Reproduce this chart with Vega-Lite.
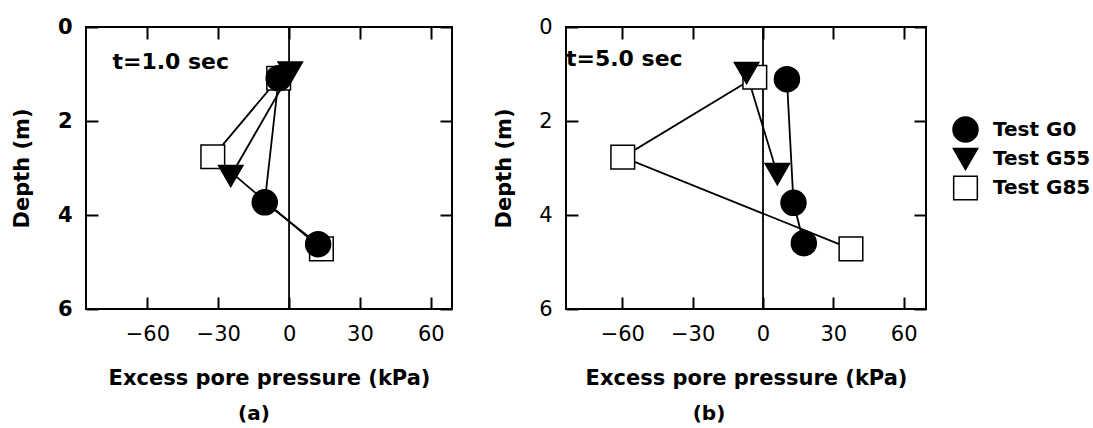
{
  "$schema": "https://vega.github.io/schema/vega-lite/v6.json",
  "background": "white",
  "padding": {"left": 10, "top": 15, "right": 0, "bottom": 0},
  "config": {
    "font": "DejaVu Sans",
    "view": {"stroke": "black", "strokeWidth": 2},
    "axis": {
      "domain": false,
      "grid": false,
      "tickColor": "black",
      "tickWidth": 2,
      "tickSize": -12,
      "labelColor": "black",
      "labelFont": "DejaVu Sans",
      "labelFontSize": 21,
      "labelFlush": false,
      "labelPadding": 26,
      "titleColor": "black",
      "titleFont": "DejaVu Sans",
      "titleFontSize": 21,
      "titleFontWeight": "bold"
    },
    "legend": {
      "labelFont": "DejaVu Sans",
      "labelFontSize": 20,
      "labelFontWeight": "bold",
      "labelColor": "black",
      "labelOffset": 14,
      "rowPadding": 0,
      "symbolStrokeColor": "black",
      "symbolStrokeWidth": 1.5,
      "symbolOpacity": 1
    },
    "title": {
      "font": "DejaVu Sans",
      "fontSize": 20,
      "fontWeight": "bold",
      "color": "black"
    }
  },
  "datasets": {
    "t1": [
      {"test": "Test G85", "kPa": -4.4, "depth": 1.09},
      {"test": "Test G85", "kPa": -32.3, "depth": 2.76},
      {"test": "Test G85", "kPa": 13.7, "depth": 4.72},
      {"test": "Test G55", "kPa": 0.5, "depth": 0.97},
      {"test": "Test G55", "kPa": -24.7, "depth": 3.17},
      {"test": "Test G0", "kPa": -4.4, "depth": 1.09},
      {"test": "Test G0", "kPa": -10.3, "depth": 3.73},
      {"test": "Test G0", "kPa": 12.3, "depth": 4.62}
    ],
    "t5": [
      {"test": "Test G85", "kPa": -3.5, "depth": 1.07},
      {"test": "Test G85", "kPa": -59.8, "depth": 2.77},
      {"test": "Test G85", "kPa": 37.5, "depth": 4.72},
      {"test": "Test G55", "kPa": -7.0, "depth": 0.98},
      {"test": "Test G55", "kPa": 6.1, "depth": 3.13},
      {"test": "Test G0", "kPa": 10.2, "depth": 1.11},
      {"test": "Test G0", "kPa": 13.0, "depth": 3.74},
      {"test": "Test G0", "kPa": 17.4, "depth": 4.6}
    ]
  },
  "spacing": 38,
  "hconcat": [
    {
      "width": 366,
      "height": 282,
      "title": {"text": "(a)", "orient": "bottom", "dx": -15, "offset": 16},
      "resolve": {"axis": {"x": "independent", "y": "independent"}},
      "layer": [
        {
          "data": {"values": [{}]},
          "mark": {"type": "rule", "color": "black", "strokeWidth": 1.8},
          "encoding": {
            "x": {"datum": 0, "type": "quantitative", "scale": {"domain": [-86, 69], "nice": false, "zero": false},
                  "axis": {"orient": "top", "values": [-60, -30, 0, 30, 60], "labels": false, "title": null}}
          }
        },
        {
          "data": {"name": "t1"},
          "mark": {"type": "line", "color": "black", "strokeWidth": 1.8},
          "encoding": {
            "x": {"field": "kPa", "type": "quantitative", "scale": {"domain": [-86, 69], "nice": false, "zero": false},
                  "axis": {"values": [-60, -30, 0, 30, 60], "title": "Excess pore pressure (kPa)", "titlePadding": 23}},
            "y": {"field": "depth", "type": "quantitative", "scale": {"domain": [0, 6], "reverse": true, "nice": false},
                  "axis": {"values": [0, 2, 4, 6], "title": "Depth (m)", "labelFontWeight": "bold", "titlePadding": 25}},
            "detail": {"field": "test"},
            "order": {"field": "depth"}
          }
        },
        {
          "data": {"name": "t1"},
          "encoding": {
            "x": {"field": "kPa", "type": "quantitative", "scale": {"domain": [-86, 69], "nice": false, "zero": false}, "axis": null},
            "y": {"field": "depth", "type": "quantitative", "scale": {"domain": [0, 6], "reverse": true, "nice": false}, "axis": null},
            "shape": {"field": "test", "type": "nominal",
                      "scale": {"domain": ["Test G0", "Test G55", "Test G85"], "range": ["circle", "triangle-down", "square"]},
                      "legend": {"title": null, "orient": "none", "legendX": 866, "legendY": 89,
                                 "encode": {"symbols": {"update": {"stroke": {"value": "black"}, "strokeWidth": {"value": 1.5}, "strokeOpacity": {"value": 1}}}}}},
            "fill": {"field": "test", "type": "nominal",
                     "scale": {"domain": ["Test G0", "Test G55", "Test G85"], "range": ["black", "black", "white"]},
                     "legend": {"title": null, "orient": "none", "legendX": 866, "legendY": 89,
                                "encode": {"symbols": {"update": {"stroke": {"value": "black"}, "strokeWidth": {"value": 1.5}, "strokeOpacity": {"value": 1}}}}}},
            "size": {"field": "test", "type": "nominal",
                     "scale": {"domain": ["Test G0", "Test G55", "Test G85"], "range": [625, 560, 300]},
                     "legend": {"title": null, "orient": "none", "legendX": 866, "legendY": 89,
                                "encode": {"symbols": {"update": {"stroke": {"value": "black"}, "strokeWidth": {"value": 1.5}, "strokeOpacity": {"value": 1}}}}}}
          },
          "layer": [
            {
              "transform": [{"filter": "datum.test === 'Test G85'"}],
              "mark": {"type": "point", "filled": true, "stroke": "black", "strokeWidth": 1.5, "opacity": 1, "fillOpacity": 1}
            },
            {
              "transform": [{"filter": "datum.test === 'Test G55'"}],
              "mark": {"type": "point", "filled": true, "stroke": "black", "strokeWidth": 1.5, "opacity": 1, "fillOpacity": 1}
            },
            {
              "transform": [{"filter": "datum.test === 'Test G0'"}],
              "mark": {"type": "point", "filled": true, "stroke": "black", "strokeWidth": 1.5, "opacity": 1, "fillOpacity": 1}
            }
          ]
        },
        {
          "data": {"values": [{}]},
          "mark": {"type": "text", "align": "left", "baseline": "middle", "fontSize": 22, "fontWeight": "bold", "color": "black"},
          "encoding": {
            "x": {"datum": -74.8, "type": "quantitative", "scale": {"domain": [-86, 69], "nice": false, "zero": false}, "axis": null},
            "y": {"datum": 0.74, "type": "quantitative", "scale": {"domain": [0, 6], "reverse": true, "nice": false},
                  "axis": {"orient": "right", "values": [0, 2, 4, 6], "labels": false, "title": null}},
            "text": {"value": "t=1.0 sec"}
          }
        }
      ]
    },
    {
      "width": 360,
      "height": 282,
      "title": {"text": "(b)", "orient": "bottom", "dx": -37, "offset": 16},
      "resolve": {"axis": {"x": "independent", "y": "independent"}},
      "layer": [
        {
          "data": {"values": [{}]},
          "mark": {"type": "rule", "color": "black", "strokeWidth": 1.8},
          "encoding": {
            "x": {"datum": 0, "type": "quantitative", "scale": {"domain": [-84, 69.5], "nice": false, "zero": false},
                  "axis": {"orient": "top", "values": [-60, -30, 0, 30, 60], "labels": false, "title": null}}
          }
        },
        {
          "data": {"name": "t5"},
          "mark": {"type": "line", "color": "black", "strokeWidth": 1.8},
          "encoding": {
            "x": {"field": "kPa", "type": "quantitative", "scale": {"domain": [-84, 69.5], "nice": false, "zero": false},
                  "axis": {"values": [-60, -30, 0, 30, 60], "title": "Excess pore pressure (kPa)", "titlePadding": 23}},
            "y": {"field": "depth", "type": "quantitative", "scale": {"domain": [0, 6], "reverse": true, "nice": false},
                  "axis": {"values": [0, 2, 4, 6], "title": "Depth (m)", "titlePadding": 24}},
            "detail": {"field": "test"},
            "order": {"field": "depth"}
          }
        },
        {
          "data": {"name": "t5"},
          "encoding": {
            "x": {"field": "kPa", "type": "quantitative", "scale": {"domain": [-84, 69.5], "nice": false, "zero": false}, "axis": null},
            "y": {"field": "depth", "type": "quantitative", "scale": {"domain": [0, 6], "reverse": true, "nice": false}, "axis": null},
            "shape": {"field": "test", "type": "nominal",
                      "scale": {"domain": ["Test G0", "Test G55", "Test G85"], "range": ["circle", "triangle-down", "square"]},
                      "legend": {"title": null, "orient": "none", "legendX": 866, "legendY": 89,
                                 "encode": {"symbols": {"update": {"stroke": {"value": "black"}, "strokeWidth": {"value": 1.5}, "strokeOpacity": {"value": 1}}}}}},
            "fill": {"field": "test", "type": "nominal",
                     "scale": {"domain": ["Test G0", "Test G55", "Test G85"], "range": ["black", "black", "white"]},
                     "legend": {"title": null, "orient": "none", "legendX": 866, "legendY": 89,
                                "encode": {"symbols": {"update": {"stroke": {"value": "black"}, "strokeWidth": {"value": 1.5}, "strokeOpacity": {"value": 1}}}}}},
            "size": {"field": "test", "type": "nominal",
                     "scale": {"domain": ["Test G0", "Test G55", "Test G85"], "range": [625, 560, 300]},
                     "legend": {"title": null, "orient": "none", "legendX": 866, "legendY": 89,
                                "encode": {"symbols": {"update": {"stroke": {"value": "black"}, "strokeWidth": {"value": 1.5}, "strokeOpacity": {"value": 1}}}}}}
          },
          "layer": [
            {
              "transform": [{"filter": "datum.test === 'Test G85'"}],
              "mark": {"type": "point", "filled": true, "stroke": "black", "strokeWidth": 1.5, "opacity": 1, "fillOpacity": 1}
            },
            {
              "transform": [{"filter": "datum.test === 'Test G55'"}],
              "mark": {"type": "point", "filled": true, "stroke": "black", "strokeWidth": 1.5, "opacity": 1, "fillOpacity": 1}
            },
            {
              "transform": [{"filter": "datum.test === 'Test G0'"}],
              "mark": {"type": "point", "filled": true, "stroke": "black", "strokeWidth": 1.5, "opacity": 1, "fillOpacity": 1}
            }
          ]
        },
        {
          "data": {"values": [{}]},
          "mark": {"type": "text", "align": "left", "baseline": "middle", "fontSize": 22, "fontWeight": "bold", "color": "black"},
          "encoding": {
            "x": {"datum": -84, "type": "quantitative", "scale": {"domain": [-84, 69.5], "nice": false, "zero": false}, "axis": null},
            "y": {"datum": 0.68, "type": "quantitative", "scale": {"domain": [0, 6], "reverse": true, "nice": false},
                  "axis": {"orient": "right", "values": [0, 2, 4, 6], "labels": false, "title": null}},
            "text": {"value": "t=5.0 sec"}
          }
        }
      ]
    }
  ]
}
